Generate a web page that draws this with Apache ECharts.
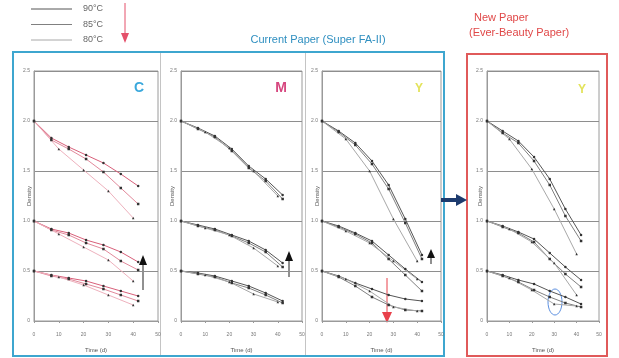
<!DOCTYPE html>
<html>
<head>
<meta charset="utf-8">
<script src="https://cdn.jsdelivr.net/npm/echarts@6/dist/echarts.min.js"></script>
<style>
  html, body { margin: 0; padding: 0; background: #fff; }
  #chart { width: 619px; height: 358px; }
</style>
</head>
<body>
<div id="chart"></div>
<script>
// Sampling days: weekly pulls for the two milder conditions, 10-day pulls for the harshest one
const days7 = [0, 7, 14, 21, 28, 35, 42];
const days10 = [0, 10, 20, 30, 40];
const conditions = ['90°C', '85°C', '80°C'];
const panelLetters = ['C', 'M', 'Y', 'Y'];

// Density vs time, three starting densities per panel, one row per condition
const cyanHigh = [[2.0, 1.83, 1.74, 1.66, 1.58, 1.47, 1.35], [2.0, 1.81, 1.72, 1.62, 1.49, 1.33, 1.17], [2.0, 1.72, 1.51, 1.30, 1.03]];
const cyanMid  = [[1.0, 0.92, 0.88, 0.81, 0.76, 0.69, 0.59], [1.0, 0.91, 0.86, 0.78, 0.72, 0.60, 0.51], [1.0, 0.87, 0.74, 0.61, 0.40]];
const cyanLow  = [[0.5, 0.46, 0.43, 0.40, 0.35, 0.30, 0.25], [0.5, 0.45, 0.42, 0.37, 0.32, 0.26, 0.20], [0.5, 0.44, 0.36, 0.26, 0.16]];

const magentaHigh = [[2.0, 1.93, 1.85, 1.72, 1.55, 1.42, 1.26], [2.0, 1.92, 1.84, 1.70, 1.53, 1.40, 1.22], [2.0, 1.89, 1.73, 1.50, 1.25]];
const magentaMid  = [[1.0, 0.96, 0.92, 0.86, 0.80, 0.71, 0.58], [1.0, 0.95, 0.91, 0.85, 0.78, 0.69, 0.54], [1.0, 0.93, 0.86, 0.73, 0.55]];
const magentaLow  = [[0.5, 0.48, 0.45, 0.40, 0.35, 0.28, 0.20], [0.5, 0.47, 0.44, 0.38, 0.33, 0.26, 0.18], [0.5, 0.46, 0.39, 0.27, 0.19]];

const yellowHigh = [[2.0, 1.90, 1.78, 1.60, 1.36, 1.02, 0.66], [2.0, 1.89, 1.76, 1.57, 1.32, 0.98, 0.62], [2.0, 1.82, 1.50, 1.02, 0.60]];
const yellowMid  = [[1.0, 0.95, 0.88, 0.80, 0.66, 0.52, 0.39], [1.0, 0.94, 0.87, 0.78, 0.62, 0.46, 0.30], [1.0, 0.90, 0.78, 0.60, 0.42]];
const yellowLow  = [[0.5, 0.45, 0.38, 0.32, 0.26, 0.22, 0.20], [0.5, 0.44, 0.35, 0.24, 0.16, 0.11, 0.10], [0.5, 0.42, 0.30, 0.14, 0.10]];

const newYellowHigh = [[2.0, 1.90, 1.80, 1.64, 1.42, 1.12, 0.86], [2.0, 1.88, 1.78, 1.60, 1.36, 1.05, 0.80], [2.0, 1.82, 1.52, 1.12, 0.67]];
const newYellowMid  = [[1.0, 0.95, 0.89, 0.82, 0.68, 0.54, 0.41], [1.0, 0.94, 0.88, 0.79, 0.62, 0.47, 0.34], [1.0, 0.92, 0.79, 0.58, 0.26]];
const newYellowLow  = [[0.5, 0.46, 0.41, 0.37, 0.30, 0.24, 0.17], [0.5, 0.45, 0.39, 0.31, 0.24, 0.18, 0.14], [0.5, 0.43, 0.31, 0.17, 0.15]];

const panels = [
  [cyanHigh, cyanMid, cyanLow],
  [magentaHigh, magentaMid, magentaLow],
  [yellowHigh, yellowMid, yellowLow],
  [newYellowHigh, newYellowMid, newYellowLow]
];

// Plot rectangles for the four small charts
const gridBoxes = [
  { left: 34, top: 71, width: 124, height: 252 },
  { left: 181, top: 71, width: 121, height: 252 },
  { left: 322, top: 71, width: 119, height: 252 },
  { left: 487, top: 71, width: 112, height: 250 }
];
const nameGaps = [2, 6, 2, 4];

const pinkLines = ['#d8607a', '#e2899b', '#eeb1bd'];
const grayLines = ['#555555', '#808080', '#a8a8a8'];
const markers = ['circle', 'rect', 'triangle'];
const font = 'Liberation Sans, Arial, sans-serif';

const grids = [], xAxes = [], yAxes = [], series = [];
gridBoxes.forEach((g, p) => {
  grids.push(Object.assign({ show: true, borderColor: '#9a9a9a', borderWidth: 1, containLabel: false }, g));
  xAxes.push({
    type: 'value', gridIndex: p, min: 0, max: 50, interval: 10,
    name: 'Time (d)', nameLocation: 'middle', nameGap: 26, nameMoveOverlap: false,
    nameTextStyle: { fontSize: 6, color: '#555', fontFamily: font },
    axisLine: { show: true, onZero: false, lineStyle: { color: '#9a9a9a' } },
    axisTick: { show: true, length: 2, lineStyle: { color: '#9a9a9a' } },
    axisLabel: { fontSize: 5, color: '#777', margin: 11, fontFamily: font },
    splitLine: { show: false }
  });
  yAxes.push({
    type: 'value', gridIndex: p, min: 0, max: 2.5, interval: 0.5,
    name: 'Density', nameLocation: 'middle', nameGap: nameGaps[p], nameRotate: 90, nameMoveOverlap: false,
    nameTextStyle: { fontSize: 6, color: '#555', fontFamily: font },
    axisLine: { show: true, lineStyle: { color: '#9a9a9a' } },
    axisTick: { show: false },
    axisLabel: { fontSize: 5, color: '#777', margin: 4, fontFamily: font,
      formatter: v => (v === 0 ? '0' : v.toFixed(1)) },
    splitLine: { show: true, lineStyle: { color: '#8e8e8e', width: 1 } }
  });
  const colors = p === 0 ? pinkLines : grayLines;
  panels[p].forEach((group) => {
    group.forEach((vals, c) => {
      const xs = c < 2 ? days7 : days10;
      series.push({
        type: 'line', name: conditions[c], xAxisIndex: p, yAxisIndex: p,
        data: vals.map((v, k) => [xs[k], v]),
        symbol: markers[c], symbolSize: 2.5, showSymbol: true,
        lineStyle: { color: colors[c], width: 1 },
        itemStyle: { color: '#333', borderWidth: 0 },
        animation: false, silent: true
      });
    });
  });
});

const arrowHead = (cx, tipY, baseY, half, color) => ({
  type: 'polygon', silent: true,
  shape: { points: [[cx - half, baseY], [cx + half, baseY], [cx, tipY]] },
  style: { fill: color }
});
const vLine = (x, y1, y2, color, w) => ({
  type: 'line', silent: true, shape: { x1: x, y1: y1, x2: x, y2: y2 },
  style: { stroke: color, lineWidth: w }
});

const graphics = [];
// condition key with downward arrow
conditions.forEach((label, i) => {
  const y = 9 + i * 15.5;
  graphics.push({ type: 'line', silent: true, shape: { x1: 31, y1: y, x2: 72, y2: y },
    style: { stroke: grayLines[i], lineWidth: 1 } });
  graphics.push({ type: 'text', silent: true, x: 83, y: y,
    style: { text: label, fill: '#666', font: '9px ' + font, verticalAlign: 'middle' } });
});
graphics.push(vLine(125, 3, 35, '#e4506a', 1));
graphics.push(arrowHead(125, 43, 33, 4, '#e4506a'));

// enclosing frames
graphics.push({ type: 'rect', silent: true, shape: { x: 13, y: 52, width: 431, height: 304 },
  style: { fill: 'none', stroke: '#3ea6cf', lineWidth: 2 } });
graphics.push({ type: 'rect', silent: true, shape: { x: 467, y: 54, width: 140, height: 302 },
  style: { fill: 'none', stroke: '#e05a5a', lineWidth: 2 } });
graphics.push(vLine(160.5, 53, 355, '#c4c4c4', 1));
graphics.push(vLine(305.5, 53, 355, '#c4c4c4', 1));

// headings
graphics.push({ type: 'text', silent: true, x: 318, y: 40,
  style: { text: 'Current Paper (Super FA-II)', fill: '#2f8fc0', font: '11px ' + font, align: 'center', verticalAlign: 'middle' } });
graphics.push({ type: 'text', silent: true, x: 474, y: 18,
  style: { text: 'New Paper', fill: '#e04848', font: '11px ' + font, verticalAlign: 'middle' } });
graphics.push({ type: 'text', silent: true, x: 469, y: 33,
  style: { text: '(Ever-Beauty Paper)', fill: '#e04848', font: '11px ' + font, verticalAlign: 'middle' } });

// panel letters
const letterStyles = [
  { x: 139, y: 88, fill: '#3aa8dc', size: 14 },
  { x: 281, y: 88, fill: '#d6457e', size: 14 },
  { x: 419, y: 89, fill: '#e3e35a', size: 12 },
  { x: 582, y: 90, fill: '#e3e35a', size: 12 }
];
letterStyles.forEach((s, i) => graphics.push({ type: 'text', silent: true, x: s.x, y: s.y,
  style: { text: panelLetters[i], fill: s.fill, font: 'bold ' + s.size + 'px ' + font, align: 'center', verticalAlign: 'middle' } }));

// navy arrow linking the two papers
graphics.push({ type: 'line', silent: true, shape: { x1: 441, y1: 200, x2: 458, y2: 200 },
  style: { stroke: '#1d3b6e', lineWidth: 4 } });
graphics.push({ type: 'polygon', silent: true, shape: { points: [[456, 194], [467, 200], [456, 206]] },
  style: { fill: '#1d3b6e' } });

// black upward arrows
graphics.push(vLine(143, 290, 262, '#222', 1));
graphics.push(arrowHead(143, 255, 265, 4, '#111'));
graphics.push(vLine(289, 277, 258, '#222', 1));
graphics.push(arrowHead(289, 251, 261, 4, '#111'));
graphics.push(vLine(431, 264, 256, '#222', 1));
graphics.push(arrowHead(431, 249, 258, 4, '#111'));

// red downward arrow on the current yellow panel
graphics.push(vLine(387, 278, 314, '#e8404a', 1));
graphics.push(arrowHead(387, 323, 312, 5, '#e8404a'));

// blue ring on the new paper
graphics.push({ type: 'ellipse', silent: true, shape: { cx: 555, cy: 302, rx: 7, ry: 13 },
  style: { fill: 'none', stroke: '#5b8fe0', lineWidth: 1 } });

const chart = echarts.init(document.getElementById('chart'), null, { renderer: 'canvas' });
chart.setOption({
  backgroundColor: '#fff',
  animation: false,
  grid: grids,
  xAxis: xAxes,
  yAxis: yAxes,
  series: series,
  graphic: graphics
});
</script>
</body>
</html>
